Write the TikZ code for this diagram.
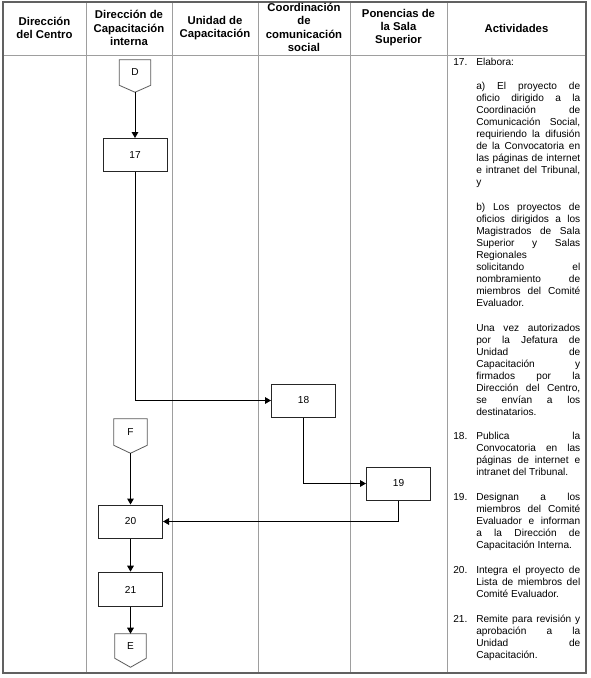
\documentclass[tikz,border=0pt]{standalone}
\usepackage{fontspec}
\setmainfont{Liberation Sans}
\usetikzlibrary{arrows.meta,calc}
\newcommand\jl[1]{\makebox[\linewidth][s]{#1}\par}
\newcommand\lastl[1]{\makebox[\linewidth][l]{#1}\par}
\begin{document}
\begin{tikzpicture}[x=0.75pt,y=-0.75pt,
  outerline/.style={draw=black!62,line width=0.8pt},
  innerline/.style={draw=black!38,line width=0.75pt},
  hdr/.style={font=\fontsize{8.5}{10}\selectfont\bfseries,align=center,inner sep=0pt},
  box/.style={draw=black!85,line width=0.75pt,minimum width=48pt,minimum height=24.75pt,inner sep=0pt,font=\fontsize{7.6}{9}\selectfont},
  conn/.style={minimum width=23.25pt,minimum height=18.75pt,inner sep=0pt,font=\fontsize{7.6}{9}\selectfont},
  connline/.style={draw=black!65,line width=0.6pt},
  flow/.style={draw=black,line width=0.75pt,-{Triangle[length=4.5pt,width=5pt]}},
  para/.style={anchor=base west,inner sep=0pt,font=\fontsize{7.6}{9}\selectfont},
]
\useasboundingbox (0,0) rectangle (590,678);
% table
\draw[innerline] (3,55) -- (586,55);
\foreach \xx in {86,172,258,350,447} {\draw[innerline] (\xx,2) -- (\xx,673);}
\draw[outerline] (3,2) rectangle (586,673);
% headers
\node[hdr] (h1) at (44.5,28) {Dirección\\del Centro};
\node[hdr] (h2) at (129,28) {Dirección de\\Capacitación\\interna};
\node[hdr] (h3) at (215,28) {Unidad de\\Capacitación};
\node[hdr] (h4) at (304,27.5) {Coordinación\\de\\comunicación\\social};
\node[hdr] (h5) at (398.5,27.5) {Ponencias de\\la Sala\\Superior};
\node[hdr] (h6) at (516.5,28) {Actividades};
% connectors
\node[conn] (D) at (135,72.5) {D};
\coordinate (Dtip) at ($(D.south)+(0,7)$);
\draw[connline] (D.north west) -- (D.north east) -- (D.south east) -- (Dtip) -- (D.south west) -- cycle;
\node[conn,minimum width=24.75pt,minimum height=19.5pt] (F) at (130.5,432) {F};
\coordinate (Ftip) at ($(F.south)+(0,8)$);
\draw[connline] (F.north west) -- (F.north east) -- (F.south east) -- (Ftip) -- (F.south west) -- cycle;
\node[conn,minimum height=18pt] (E) at (130.5,646) {E};
\coordinate (Etip) at ($(E.south)+(0,9)$);
\draw[connline] (E.north west) -- (E.north east) -- (E.south east) -- (Etip) -- (E.south west) -- cycle;
% boxes
\node[box] (b17) at (135,155) {17};
\node[box] (b18) at (303.5,400.5) {18};
\node[box] (b19) at (398.5,483.5) {19};
\node[box] (b20) at (130.5,521.5) {20};
\node[box,minimum height=26pt] (b21) at (130.5,589.5) {21};
% flows
\draw[flow] (Dtip) -- (b17.north);
\draw[flow] (b17.south) |- (b18.west);
\draw[flow] (b18.south) |- (b19.west);
\draw[flow] (b19.south) |- (b20.east);
\draw[flow] (Ftip) -- (b20.north);
\draw[flow] (b20.south) -- (b21.north);
\draw[flow] (b21.south) -- (E.north);
% activities
\node[para] (n17) at (453,65.5) {17.};
\node[para] (p17) at (476,65.5) {Elabora:};
\node[para] (pa) at (476,89.5) {\parbox[t]{78pt}{%
\jl{a) El proyecto de}
\jl{oficio dirigido a la}
\jl{Coordinación de}
\jl{Comunicación Social,}
\jl{requiriendo la difusión}
\jl{de la Convocatoria en}
\jl{las páginas de internet}
\jl{e intranet del Tribunal,}
\lastl{y}}};
\node[para] (pb) at (476,210.5) {\parbox[t]{78pt}{%
\jl{b) Los proyectos de}
\jl{oficios dirigidos a los}
\jl{Magistrados de Sala}
\jl{Superior y Salas}
\lastl{Regionales}
\jl{solicitando el}
\jl{nombramiento de}
\jl{miembros del Comité}
\lastl{Evaluador.}}};
\node[para] (pc) at (476,331.5) {\parbox[t]{78pt}{%
\jl{Una vez autorizados}
\jl{por la Jefatura de}
\jl{Unidad de}
\jl{Capacitación y}
\jl{firmados por la}
\jl{Dirección del Centro,}
\jl{se envían a los}
\lastl{destinatarios.}}};
\node[para] (n18) at (453,439.5) {18.};
\node[para] (p18) at (476,439.5) {\parbox[t]{78pt}{%
\jl{Publica la}
\jl{Convocatoria en las}
\jl{páginas de internet e}
\lastl{intranet del Tribunal.}}};
\node[para] (n19) at (453,500.5) {19.};
\node[para] (p19) at (476,500.5) {\parbox[t]{78pt}{%
\jl{Designan a los}
\jl{miembros del Comité}
\jl{Evaluador e informan}
\jl{a la Dirección de}
\lastl{Capacitación Interna.}}};
\node[para] (n20) at (453,573.5) {20.};
\node[para] (p20) at (476,573.5) {\parbox[t]{78pt}{%
\jl{Integra el proyecto de}
\jl{Lista de miembros del}
\lastl{Comité Evaluador.}}};
\node[para] (n21) at (453,622.5) {21.};
\node[para] (p21) at (476,622.5) {\parbox[t]{78pt}{%
\jl{Remite para revisión y}
\jl{aprobación a la}
\jl{Unidad de}
\lastl{Capacitación.}}};
\end{tikzpicture}
\end{document}
